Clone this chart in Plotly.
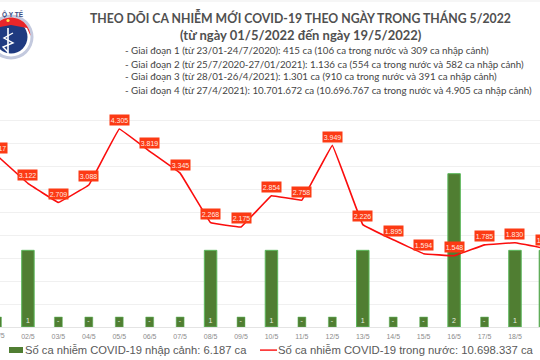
import numpy as np
import plotly.graph_objects as go

days = ["01/5","02/5","03/5","04/5","05/5","06/5","07/5","08/5","09/5","10/5","11/5","12/5","13/5","14/5","15/5","16/5","17/5","18/5","19/5"]
domestic = [3717,3122,2709,3088,4305,3819,3345,2268,2175,2854,2758,3949,2226,1895,1594,1548,1785,1830,1707]
imported = [0.13,1,0.13,0.13,0.13,0.13,0.13,1,0.13,1,0.13,0.13,1,0.13,0.13,2,0.13,1,1]
imported_labels = ["-","1","-","-","-","-","-","1","-","1","-","-","1","-","-","2","-","1","1"]
title_lines = ["THEO DÕI CA NHIỄM MỚI COVID-19 THEO NGÀY TRONG THÁNG 5/2022",
               "(từ ngày 01/5/2022 đến ngày 19/5/2022)"]
notes = ["- Giai đoạn 1 (từ 23/01-24/7/2020): 415 ca (106 ca trong nước và 309 ca nhập cảnh)",
         "- Giai đoạn 2 (từ 25/7/2020-27/01/2021): 1.136 ca (554 ca trong nước và 582 ca nhập cảnh)",
         "- Giai đoạn 3 (từ 28/01-26/4/2021): 1.301 ca (910 ca trong nước và 391 ca nhập cảnh)",
         "- Giai đoạn 4 (từ 27/4/2021): 10.701.672 ca (10.696.767 ca trong nước và 4.905 ca nhập cảnh)"]
legend_bar = "Số ca nhiễm COVID-19 nhập cảnh: 6.187 ca"
legend_line = "Số ca nhiễm COVID-19 trong nước: 10.698.337 ca"

W, H, TOP, BOT = 540, 360, 97, 327
STEP = 30.44
X0 = -2.5
xr = [(0 - X0) / STEP, (W - X0) / STEP]
px = lambda x: x / W
py = lambda y: (BOT - y) / (BOT - TOP)

idx = list(range(len(days)))
fig = go.Figure()
fig.add_bar(x=idx, y=imported, width=[0.41 if v >= 1 else 0.26 for v in imported],
            marker=dict(color="#507e32", line=dict(color="#5cb85c", width=[1 if v >= 1 else 0.5 for v in imported])),
            text=imported_labels, textposition="inside", insidetextanchor="start", textangle=0,
            textfont=dict(size=7, color="#e8efe0", family="Liberation Sans"), constraintext="none",
            name=legend_bar, showlegend=False, hoverinfo="skip")
fig.add_scatter(x=idx, y=domestic, yaxis="y2", mode="lines",
                line=dict(color="#fb0d0d", width=1.6, shape="spline", smoothing=0.12),
                name=legend_line, showlegend=False, hoverinfo="skip")

ann, shapes = [], []
for i, v in enumerate(domestic):
    x = min(max(i, xr[0]), xr[1])
    ann.append(dict(x=x, y=v, xref="x", yref="y2", xshift=(i - x) * STEP, yshift=8.5,
                    text=f"{v:,}".replace(",", "."), showarrow=False, width=19, height=10,
                    bgcolor="#fc3a14", borderpad=0, align="center", valign="middle",
                    font=dict(size=7, color="#ffe9e0", family="Liberation Sans")))
ann.append(dict(x=xr[0], y=py(335), xref="x", yref="paper", xshift=-xr[0] * STEP, text=days[0], showarrow=False,
                font=dict(size=7, color="#8c8c8c", family="Liberation Sans"), xanchor="center", yanchor="middle"))

def text(x, y, s, size, color, fam="Lato", anchor="left", angle=0, bold=False):
    ann.append(dict(x=px(x), y=py(y), xref="paper", yref="paper", text=f"<b>{s}</b>" if bold else s,
                    showarrow=False, xanchor=anchor, yanchor="middle", textangle=angle, borderpad=0,
                    font=dict(size=size, color=color, family=fam)))

text(300.5, 17, title_lines[0], 12.25, "#505050", anchor="center", bold=True)
text(300.5, 35, title_lines[1], 13, "#505050", anchor="center", bold=True)
for y, n in zip([50.5, 63.5, 76.5, 89.5], notes):
    text(124, y, n, 9.75, "#454545")
text(24, 350, legend_bar, 11.2, "#595959", fam="Liberation Sans")
text(277, 350, legend_line, 11.3, "#595959", fam="Liberation Sans")

def rect(x0, y0, x1, y1, fill):
    shapes.append(dict(type="rect", xref="paper", yref="paper", x0=px(x0), x1=px(x1), y0=py(y0), y1=py(y1),
                       fillcolor=fill, line=dict(width=0), layer="above"))
def circ(cx, cy, r, fill):
    shapes.append(dict(type="circle", xref="paper", yref="paper", x0=px(cx - r), x1=px(cx + r),
                       y0=py(cy - r), y1=py(cy + r), fillcolor=fill, line=dict(width=0), layer="above"))
def poly(pts, fill=None, lc=None, lw=0):
    d = "M " + " L ".join(f"{px(a):.5f},{py(b):.5f}" for a, b in pts) + (" Z" if fill else "")
    shapes.append(dict(type="path", xref="paper", yref="paper", path=d, fillcolor=fill,
                       line=dict(width=lw, color=lc or "rgba(0,0,0,0)"), layer="above"))

rect(9, 347, 23, 353, "#507e32")
rect(260, 349.4, 277, 350.8, "#fb0d0d")
rect(0, 0.5, W, 1.5, "#eeeeee")

# logo
cx, cy = 11, 37
circ(cx, cy, 22.5, "#c3c9de")
circ(cx, cy, 19.5, "#ffffff")
circ(cx, cy, 16.5, "#1f3a80")
a = np.linspace(np.pi * 1.02, np.pi * 1.98, 24)
poly([(cx + 19.5 * np.cos(t), cy + 19.5 * np.sin(t)) for t in a] + [(cx + 16, cy - 9), (cx, cy - 12), (cx - 16, cy - 9)], "#e8262a")
circ(8, 20.5, 1.6, "#ffe14d")
poly([(8, 28), (8, 54)], None, "#ffffff", 1.6)
poly([(13, 33), (4, 38), (13, 43), (3, 47), (8, 52)], None, "#ffffff", 1.4)
text(1, 13, "Ộ Y TẾ", 6.5, "#3a4a80", fam="Liberation Sans", bold=True, anchor="left")

fig.update_layout(
    width=W, height=H, margin=dict(l=0, r=0, t=TOP, b=H - BOT), autosize=False,
    paper_bgcolor="white", plot_bgcolor="white", showlegend=False, bargap=0.5,
    xaxis=dict(range=xr, tickmode="array", tickvals=idx, ticktext=days, showgrid=False, zeroline=False,
               showline=True, linecolor="#e4e4e4", linewidth=1, ticks="", ticklen=0, ticklabelstandoff=3,
               tickfont=dict(size=7, color="#8c8c8c", family="Liberation Sans"), automargin=False),
    yaxis=dict(range=[0, 3], tick0=0, dtick=0.3, showticklabels=False, gridcolor="#f0f0f0", gridwidth=1,
               zeroline=False, ticks=""),
    yaxis2=dict(range=[0, 5000], overlaying="y", side="right", showticklabels=False, showgrid=False,
                zeroline=False, ticks=""),
    annotations=ann, shapes=shapes,
)
fig.write_html("out.html", config={"displayModeBar": False},
               post_script="document.body.style.margin='0';document.documentElement.style.overflow='hidden';")
